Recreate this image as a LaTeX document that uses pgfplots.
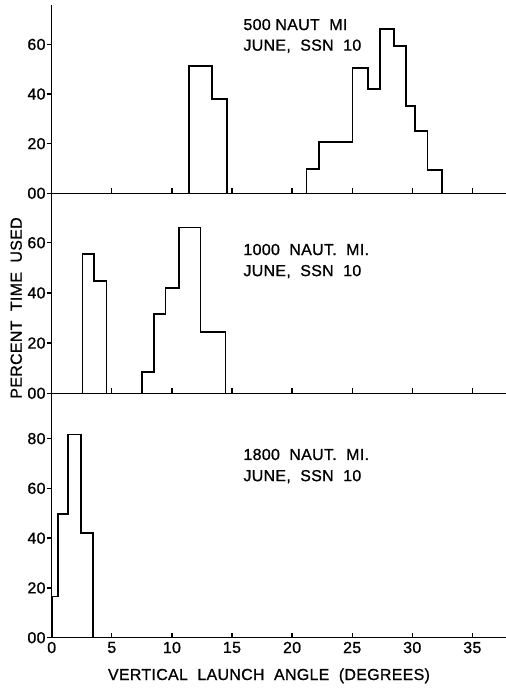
\documentclass[border=0pt]{standalone}
\usepackage{fontspec}
\setmainfont{Liberation Sans}[FakeBold=0.9, LetterSpace=2]
\usepackage{pgfplots}
\pgfplotsset{compat=1.18}

\pgfplotsset{
  panel/.style={
    scale only axis, width=454.3bp,
    xmin=0, xmax=37.8, ymin=0,
    axis x line=bottom, axis y line=left,
    axis line style={-, line width=1.5bp},
    xtick={5,10,...,35}, xticklabels={},
    xtick align=inside, ytick align=outside,
    major tick length=5bp,
    every tick/.style={black, line width=1.3bp},
    yticklabel style={inner sep=0pt, xshift=-1bp},
    /pgf/number format/assume math mode=true,
    clip=false,
  },
  hist/.style={const plot, black, line width=1.7bp, mark=none},
}
\tikzset{note/.style={anchor=base west, inner sep=0pt}}

\begin{document}
\fontsize{16}{19}\selectfont
\begin{tikzpicture}
\useasboundingbox (0,0) rectangle (506bp,688bp);

% 500 naut mi
\begin{axis}[panel, at={(51.7bp,494.7bp)}, anchor=south west,
  height=188.3bp, ymax=75.9,
  ytick={0,20,40,60}, yticklabels={00,20,40,60}]
\addplot[hist] coordinates {(11.45,0) (11.45,51.3) (13.31,37.9) (14.56,0)};
\addplot[hist] coordinates {(21.21,0) (21.21,9.8) (22.24,20.8) (25.04,50.6)
  (26.34,41.9) (27.31,66.1) (28.48,59.4) (29.48,35.3) (30.23,25.1)
  (31.28,9.4) (32.45,0)};
\node[note] at (axis cs:15.94,65.8) {500 NAUT\ \ MI};
\node[note] at (axis cs:15.94,57.5) {JUNE,\ \ SSN\ \ 10};
\end{axis}

% 1000 naut mi
\begin{axis}[panel, at={(51.7bp,294.7bp)}, anchor=south west,
  height=200bp, ymax=79.7,
  ytick={0,20,40,60}, yticklabels={00,20,40,60}]
\addplot[hist] coordinates {(2.57,0) (2.57,55.4) (3.54,44.7) (4.56,0)};
\addplot[hist] coordinates {(7.52,0) (7.52,8.4) (8.50,31.6) (9.46,42.0)
  (10.60,66.1) (12.39,24.5) (14.46,0)};
\node[note] at (axis cs:15.94,55.1) {1000\ \ NAUT.\ \ MI.};
\node[note] at (axis cs:15.94,46.7) {JUNE,\ \ SSN\ \ 10};
\node[rotate=90] at (axis cs:-2.95,34) {PERCENT\ \ TIME\ \ USED};
\end{axis}

% 1800 naut mi
\begin{axis}[panel, at={(51.7bp,50.3bp)}, anchor=south west,
  height=244.4bp, ymax=98.2,
  ytick={0,20,40,60,80}, yticklabels={00,20,40,60,80},
  xtick={0,5,...,35}, xticklabels={0,5,10,15,20,25,30,35},
  xticklabel style={inner sep=0pt, yshift=-4bp}]
\addplot[hist] coordinates {(0,0) (0,16.5) (0.5,49.6) (1.38,81.6)
  (2.43,42.2) (3.46,0)};
\node[note] at (axis cs:15.94,71.4) {1800\ \ NAUT.\ \ MI.};
\node[note] at (axis cs:15.94,62.9) {JUNE,\ \ SSN\ \ 10};
\node[anchor=base] at (axis cs:18.08,-17) {VERTICAL\ \ LAUNCH\ \ ANGLE\ \ (DEGREES)};
\end{axis}
\end{tikzpicture}
\end{document}
